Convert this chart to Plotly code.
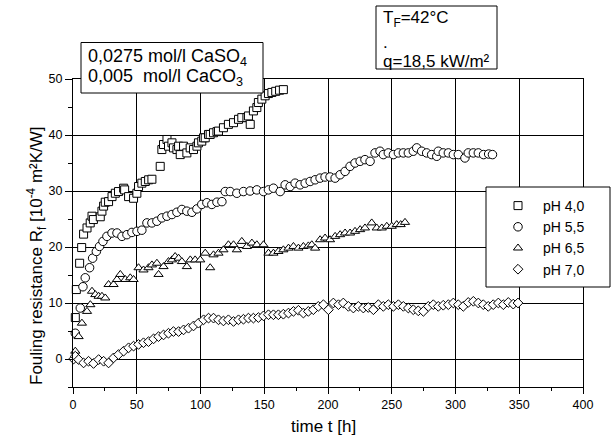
import plotly.graph_objects as go

# ---------------- data ----------------
t_ph40 = [1.8, 2.6, 5.2, 6.8, 8.3, 11, 13.5, 14.9, 16, 21.4, 22.7, 24, 25.3, 27.9, 30.6, 33.2, 35.7,
          39.7, 40.5, 43.6, 47.5, 50.1, 51.4, 54, 56.7, 59.3, 61.9, 68.4, 69.7, 71, 73.7, 74.9, 77.6,
          78.8, 81.5, 82.8, 84.1, 86.7, 89.3, 91.9, 94.5, 97.2, 98.4, 101, 102.4, 103.7, 106.3, 107.6,
          110.2, 112.9, 114.1, 118, 121.9, 125.9, 129.8, 132.4, 136.4, 137.6, 139, 141.5, 144.2, 145.4,
          148.1, 150.7, 153.3, 156, 159, 162, 165]
r_ph40 = [7.4, 12.4, 17.1, 19.9, 22.3, 23.4, 24.3, 25.5, 24.9, 25.4, 26.4, 27.3, 28, 28.1, 29, 29.6, 29.9,
          30.5, 30.2, 29, 28.7, 29.6, 30.8, 31.4, 31.7, 32, 32.1, 34.4, 37.4, 38.3, 39.2, 38, 38.6,
          37.7, 37.4, 38, 36.5, 38, 36.8, 37.7, 37.4, 38, 38.6, 38.9, 39.5, 39.5, 40.1, 40.1,
          40.4, 40.6, 40.7, 41.3, 41.9, 42.2, 42.8, 43.1, 43.1, 43.4, 41.9, 44.3, 44.9, 45.8,
          46.4, 47, 47.4, 47.6, 47.8, 48, 48.1]

t_ph55 = [1.8, 5.7, 7.8, 9.6, 13, 15.4, 18.3, 20.8, 23.5, 26.6, 30.6, 34.5, 38.4, 42.3, 46.2, 50.2, 54,
          58, 61.9, 65.8, 69.7, 73.7, 77.6, 81.5, 85.4, 89.3, 93.3, 97.2, 101, 105, 108.9, 112.9, 116.8,
          119.4, 123.3, 128.5, 133.7, 138.9, 144.2, 149.4, 153.3, 157.2, 162.5, 166.4, 170.3, 174.2,
          178.1, 182.1, 186, 189.9, 193.8, 197.7, 201.6, 205.6, 209.5, 213.4, 217.3, 221.2, 225.2, 229,
          233, 236.9, 240.8, 243.4, 247.3, 251.3, 255.2, 259.1, 263, 266.9, 269.6, 273.5, 277.4, 281.3,
          285.3, 286.5, 290.4, 294.4, 298.3, 302.2, 307.4, 310, 314, 317.9, 322, 326, 329]
r_ph55 = [4.6, 9.1, 12.9, 14.5, 16.3, 18, 19.2, 20.1, 21, 21.9, 22.5, 22.5, 21.9, 22.2, 22.6, 22.8, 23,
          24.3, 24.3, 24.6, 25.2, 25.5, 25.8, 26.2, 26.7, 26.4, 26.2, 26.8, 27.6, 27.9, 27.6, 28, 28.1,
          29.9, 29.9, 29.6, 29.9, 30, 30.2, 29.9, 30.2, 30.5, 29.9, 31.1, 30.8, 31.4,
          31.1, 31.4, 31.7, 32, 32.3, 32.5, 32.5, 32.3, 32.9, 33.5, 34.4, 35, 35.3, 35.6,
          35.3, 36.8, 37.1, 36.5, 36.8, 36.5, 36.8, 36.8, 36.8, 37.1, 37.7, 37.1, 36.8, 36.5,
          36.2, 37.1, 36.8, 36.8, 36.5, 36.5, 35.9, 36.8, 36.8, 36.8, 36.5, 36.6, 36.5]

t_ph65 = [1.8, 4.4, 7, 11, 13.6, 14.9, 17.5, 20.1, 22.7, 25.3, 27.9, 31.8, 34.5, 37.1, 41, 44.9, 47.5,
          51.4, 55.3, 59.2, 61.9, 65.8, 67.1, 71, 74.9, 77.6, 80.1, 82.8, 85.4, 89.3, 92, 95.8, 99.8,
          103.7, 107.6, 110.2, 114.1, 118, 121.9, 125.9, 128.5, 132.4, 136.4, 140.3, 144.2, 149.4,
          153.3, 157.2, 161.1, 165, 169, 172.9, 176.8, 180.7, 184.6, 187.3, 189.9, 193.8, 197.7,
          201.6, 205.6, 209.5, 213.4, 217.3, 221.2, 225.2, 229, 234.3, 238.2, 242.2, 246.1, 250,
          253.9, 257, 260.4]
r_ph65 = [1.4, 4, 6.4, 8.5, 9.7, 12.1, 11.5, 11.2, 11.2, 10.9, 13.3, 13.3, 14.2, 15.1, 14.2, 14.5, 14.2,
          16.3, 15.9, 16.3, 16.8, 17.1, 15.1, 16.5, 17.4, 17.7, 18.3, 18, 17.4, 16.5, 17.7, 17.7, 17.7,
          18.9, 16.3, 18.6, 18.9, 19.5, 20.4, 20.4, 19.5, 21, 20.1, 20.7, 20.4, 20.4,
          18.9, 18.9, 19.2, 19.5, 19.8, 20.1, 19.8, 20.1, 20.2, 20.4, 19.8, 21.3, 21.6,
          21.3, 21.9, 22.2, 22.5, 22.5, 22.8, 23.1, 23.4, 24.3, 23.4, 23.4, 23.7, 23.7,
          24, 24, 24.4]

t_ph70 = [0.5, 1.8, 4.4, 8.3, 12.2, 16.1, 20.1, 24, 27.9, 31.8, 35.7, 39.7, 43.6, 47.5, 51.4, 55.3, 59.2,
          63.2, 67.1, 71, 74.9, 78.8, 82.8, 86.7, 90.6, 94.5, 98.4, 102.4, 106.3, 110.2, 114.1, 118,
          121.9, 125.9, 129.8, 133.7, 137.6, 141.5, 145.4, 149.4, 153.3, 157.2, 161.1, 165, 169, 172.9,
          176.8, 180.7, 184.6, 188.5, 192.4, 196.4, 200.3, 204.2, 208.2, 212, 216, 219.9, 223.8, 227.7,
          231.6, 235.6, 239.5, 243.4, 247.3, 251.3, 255.2, 259.1, 263, 266.9, 270.8, 274.8, 278.7,
          282.6, 286.5, 290.4, 294.4, 298.3, 302.2, 306.1, 310, 314, 317.9, 321.8, 325.7, 329.6,
          333.6, 337.5, 341.4, 345.3, 349]
r_ph70 = [0, 0.5, -0.1, -0.7, -0.4, -0.8, -0.1, -0.4, -0.7, 0.2, 0.8, 1.4, 2, 2.3, 2.6, 2.9, 3.1,
          3.6, 4, 4.3, 4.6, 4.9, 4.9, 5.2, 5.5, 5.9, 6.4, 7, 7.3, 7.3, 7, 6.8,
          7, 6.7, 7, 7.1, 7.3, 7.3, 7.4, 7.7, 7.9, 7.9, 7.9, 8, 8.2, 8.5,
          8.7, 8.2, 8.5, 8.8, 9.4, 9.7, 8.8, 10, 9.7, 10, 9.4, 9.1, 9.4, 9.1,
          9.2, 8.8, 9.7, 9.4, 9.7, 9.4, 9.7, 9.4, 9.1, 8.8, 8.6, 8.5, 9.4,
          9.7, 9.4, 9.6, 9.7, 10, 9.7, 9.4, 10.1, 10.3, 10, 9.7, 9.4, 9.7,
          10, 9.7, 10.1, 9.8, 10]

series_names = ["pH 4,0", "pH 5,5", "pH 6,5", "pH 7,0"]
series_t = [t_ph40, t_ph55, t_ph65, t_ph70]
series_r = [r_ph40, r_ph55, r_ph65, r_ph70]
series_symbols = ["square", "circle", "triangle-up", "diamond"]
series_sizes = [8, 8.5, 8, 7.5]

x_ticks = [0, 50, 100, 150, 200, 250, 300, 350, 400]
y_ticks = [0, 10, 20, 30, 40, 50]

x_title = "time t [h]"
y_title = "Fouling resistance R<sub>f</sub> [10<sup>-4</sup> m²K/W]"
box1_lines = ["0,0275 mol/l CaSO<sub>4</sub>", "0,005\u00a0 mol/l CaCO<sub>3</sub>"]
box2_lines = ["T<sub>F</sub>=42°C", ".", "q=18,5 kW/m²"]

# ---------------- layout geometry ----------------
W, H = 614, 437
L, R_, T, B = 73, 31, 79, 50
PW, PH = W - L - R_, H - T - B


def px(xp):
    return (xp - L) / PW


def py(yp):
    return (H - B - yp) / PH


FONT = "Liberation Sans, Arial, sans-serif"

fig = go.Figure()
for name, tt, rr, sym, sz in zip(series_names, series_t, series_r, series_symbols, series_sizes):
    fig.add_trace(go.Scatter(
        x=tt, y=rr, mode="markers", name=name, cliponaxis=False,
        marker=dict(symbol=sym, size=sz, color="white",
                    line=dict(color="black", width=1)),
    ))

axis_common = dict(
    showline=True, linecolor="black", linewidth=1, mirror=True,
    showgrid=True, gridcolor="black", gridwidth=1, zeroline=False,
    ticks="outside", tickcolor="black", tickwidth=1,
    tickfont=dict(family=FONT, size=12.5, color="black"),
)
fig.update_xaxes(range=[0, 400], tickvals=x_ticks, ticklen=6,
                 minor=dict(dtick=25, ticklen=3, ticks="outside", tickcolor="black", showgrid=False),
                 **axis_common)
fig.update_yaxes(range=[-5, 50], tickvals=y_ticks, ticklen=7,
                 minor=dict(dtick=5, ticklen=4, ticks="outside", tickcolor="black", showgrid=False),
                 **axis_common)

shapes = [
    # concentration box
    dict(type="rect", xref="paper", yref="paper", x0=px(81), x1=px(263), y0=py(93), y1=py(42.5),
         line=dict(color="black", width=1), fillcolor="white", layer="above"),
    # temperature / heat flux box
    dict(type="rect", xref="paper", yref="paper", x0=px(376), x1=px(497), y0=py(69), y1=py(6),
         line=dict(color="black", width=1), fillcolor="white", layer="above"),
    # legend frame
    dict(type="rect", xref="paper", yref="paper", x0=px(486), x1=px(610), y0=py(287), y1=py(187),
         line=dict(color="black", width=1), fillcolor="white", layer="above"),
]

annotations = []
for line, ypix in zip(box1_lines, [57, 77.5]):
    annotations.append(dict(text=line, xref="paper", yref="paper", x=px(86), y=py(ypix),
                            xanchor="left", yanchor="middle", showarrow=False,
                            font=dict(family=FONT, size=18, color="black")))
for line, ypix in zip(box2_lines, [19, 42, 62]):
    annotations.append(dict(text=line, xref="paper", yref="paper", x=px(381), y=py(ypix),
                            xanchor="left", yanchor="middle", showarrow=False,
                            font=dict(family=FONT, size=17, color="black")))
annotations.append(dict(text=x_title, xref="paper", yref="paper", x=px(323), y=py(426),
                        xanchor="center", yanchor="middle", showarrow=False,
                        font=dict(family=FONT, size=17, color="black")))
annotations.append(dict(text=y_title, xref="paper", yref="paper", x=px(36), y=py(256),
                        xanchor="center", yanchor="middle", showarrow=False, textangle=-90,
                        font=dict(family=FONT, size=17, color="black")))

fig.update_layout(
    width=W, height=H, margin=dict(l=L, r=R_, t=T, b=B, pad=0),
    paper_bgcolor="white", plot_bgcolor="white",
    font=dict(family=FONT, color="black"),
    shapes=shapes, annotations=annotations,
    showlegend=True,
    legend=dict(x=px(493), y=py(190), xanchor="left", yanchor="top",
                bgcolor="rgba(0,0,0,0)", borderwidth=0, itemwidth=40,
                font=dict(family=FONT, size=14, color="black"), tracegroupgap=0),
)

fig.write_html("out.html")
